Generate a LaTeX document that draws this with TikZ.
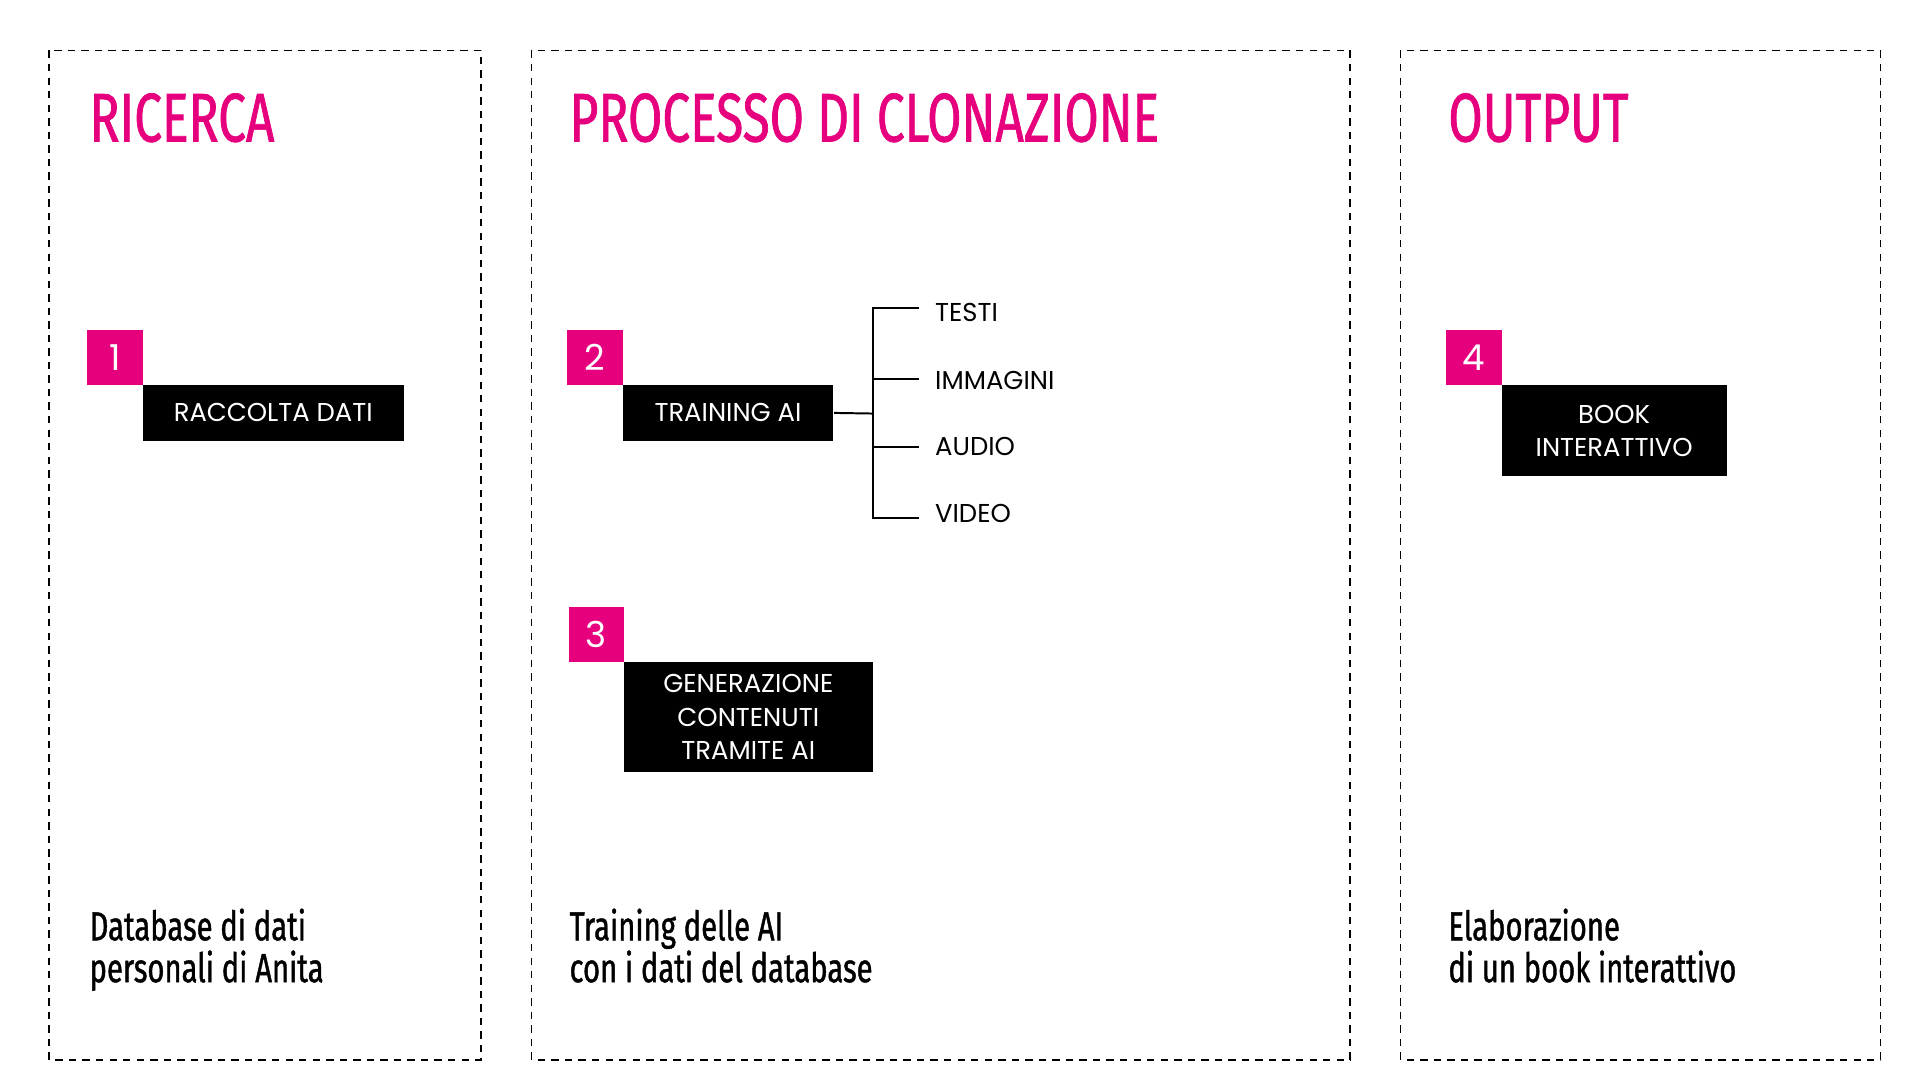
\documentclass[tikz,border=0pt]{standalone}
\usepackage{fontspec}
\setmainfont{Poppins}
\newfontfamily\condfont[FakeStretch=0.72,FakeBold=1]{Fira Sans}
\definecolor{ppink}{RGB}{230,0,126}
\tikzset{
  col/.style={draw, dashed, line width=1.3pt, dash pattern=on 6pt off 5pt},
  title/.style={anchor=base west, text=ppink, font=\condfont\fontsize{56}{56}\selectfont, inner sep=0},
  foot/.style={anchor=base west, align=left, font=\condfont\fontsize{33}{34}\selectfont, inner sep=0},
  num/.style={fill=ppink, text=white, minimum width=45pt, minimum height=45pt, inner sep=0, font=\fontsize{29}{29}\selectfont},
  phase/.style={fill=black, text=white, inner sep=0, align=center, font=\fontsize{21}{27}\selectfont},
  leaf/.style={anchor=west, inner sep=0, font=\fontsize{21}{21}\selectfont},
}
\begin{document}
\begin{tikzpicture}[x=1pt, y=-1pt, line width=1.6pt]
    \useasboundingbox (0,0) rectangle (1560,877.5);
    % columns
    \draw[col] (40,41) rectangle (391,861);
    \draw[col] (432,41) rectangle (1097,861);
    \draw[col] (1138,41) rectangle (1528,861);
    \node[title] (t1) at (72,115) {RICERCA};
    \node[title] (t2) at (462,115) {PROCESSO DI CLONAZIONE};
    \node[title] (t3) at (1176,115) {OUTPUT};
    % steps
    \node[num] (n1) at (93.5,290.5) {1};
    \node[phase, minimum width=212pt, minimum height=45pt] (s1) at (222,335.5) {RACCOLTA DATI};
    \node[num] (n2) at (483.5,290.5) {2};
    \node[phase, minimum width=171pt, minimum height=45pt] (s2) at (591.5,335.5) {TRAINING AI};
    \node[num] (n3) at (484.5,515.5) {3};
    \node[phase, minimum width=202pt, minimum height=89pt] (s3) at (608,582.5) {GENERAZIONE\\CONTENUTI\\TRAMITE AI};
    \node[num] (n4) at (1197.5,290.5) {4};
    \node[phase, minimum width=183pt, minimum height=74pt] (s4) at (1311.5,350) {BOOK\\INTERATTIVO};
    % tree
    \coordinate (fork) at (709,336);
    \node[leaf] (l1) at (759,254) {TESTI};
    \node[leaf] (l2) at (759,309) {IMMAGINI};
    \node[leaf] (l3) at (759,363) {AUDIO};
    \node[leaf] (l4) at (759,417) {VIDEO};
    \draw (s2.east) -- (fork);
    \draw (747,250) -| (709,421) -- (747,421);
    \draw (709,308) -- (747,308);
    \draw (709,363) -- (747,363);
    % footers
    \node[foot] (f1) at (72,798) {Database di dati\\personali di Anita};
    \node[foot] (f2) at (462,798) {Training delle AI\\con i dati del database};
    \node[foot] (f3) at (1176,798) {Elaborazione\\di un book interattivo};
\end{tikzpicture}
\end{document}
